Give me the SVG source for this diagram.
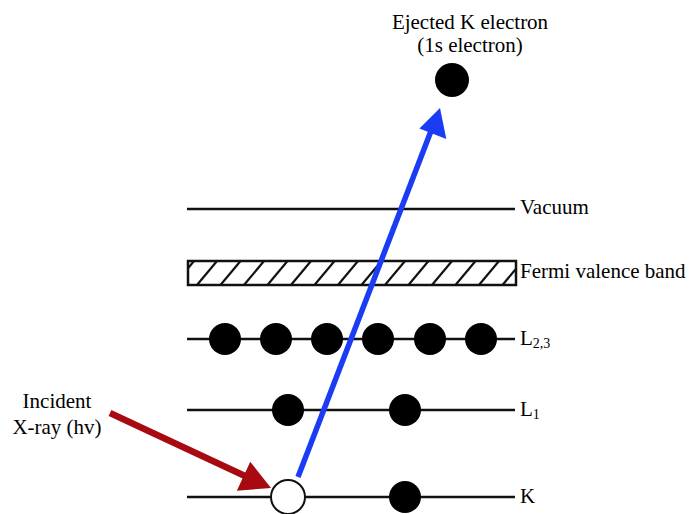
<svg xmlns="http://www.w3.org/2000/svg" width="689" height="514" viewBox="0 0 689 514">
<defs>
<style>
.lvl{stroke:#111;stroke-width:2.5;fill:none}
.e{fill:#000}
.lab{font-family:"Liberation Serif","Times New Roman",serif;font-size:21px;fill:#000}
.sub{font-size:14px}
.hatch{stroke:#111;stroke-width:2.2}
</style>
<clipPath id="bandclip"><rect x="188" y="261" width="328" height="24"/></clipPath>
</defs>
<rect width="689" height="514" fill="#fff"/>
<g id="vacuum">
<line class="lvl" x1="187" y1="209" x2="515" y2="209"/>
<text class="lab" x="520" y="214">Vacuum</text>
</g>
<g id="fermi">
<g clip-path="url(#bandclip)">
<line class="hatch" x1="174" y1="285" x2="194" y2="261"/>
<line class="hatch" x1="197" y1="285" x2="217" y2="261"/>
<line class="hatch" x1="220.5" y1="285" x2="240.5" y2="261"/>
<line class="hatch" x1="244" y1="285" x2="264" y2="261"/>
<line class="hatch" x1="267.5" y1="285" x2="287.5" y2="261"/>
<line class="hatch" x1="291" y1="285" x2="311" y2="261"/>
<line class="hatch" x1="314.5" y1="285" x2="334.5" y2="261"/>
<line class="hatch" x1="338" y1="285" x2="358" y2="261"/>
<line class="hatch" x1="361.5" y1="285" x2="381.5" y2="261"/>
<line class="hatch" x1="385" y1="285" x2="405" y2="261"/>
<line class="hatch" x1="408.5" y1="285" x2="428.5" y2="261"/>
<line class="hatch" x1="432" y1="285" x2="452" y2="261"/>
<line class="hatch" x1="455.5" y1="285" x2="475.5" y2="261"/>
<line class="hatch" x1="479" y1="285" x2="499" y2="261"/>
<line class="hatch" x1="502.5" y1="285" x2="522.5" y2="261"/>
</g>
<rect x="188" y="261" width="328" height="24" fill="none" stroke="#111" stroke-width="2.5"/>
<text class="lab" x="520" y="278">Fermi valence band</text>
</g>
<g id="L23">
<line class="lvl" x1="187" y1="339" x2="515" y2="339"/>
<circle class="e" cx="225" cy="339" r="16"/>
<circle class="e" cx="276" cy="339" r="16"/>
<circle class="e" cx="327" cy="339" r="16"/>
<circle class="e" cx="378" cy="339" r="16"/>
<circle class="e" cx="430" cy="339" r="16"/>
<circle class="e" cx="481" cy="339" r="16"/>
<text class="lab" x="520" y="345">L<tspan class="sub" dy="3">2,3</tspan></text>
</g>
<g id="L1">
<line class="lvl" x1="187" y1="410" x2="515" y2="410"/>
<circle class="e" cx="288" cy="410" r="16"/>
<circle class="e" cx="405" cy="410" r="16"/>
<text class="lab" x="520" y="416">L<tspan class="sub" dy="3">1</tspan></text>
</g>
<g id="K">
<line class="lvl" x1="187" y1="497" x2="515" y2="497"/>
<circle cx="288" cy="497" r="17" fill="#fff" stroke="#111" stroke-width="2"/>
<circle class="e" cx="405" cy="497" r="16"/>
<text class="lab" x="520" y="503">K</text>
</g>
<g id="ejected">
<circle class="e" cx="452" cy="80" r="17"/>
<text class="lab" x="470" y="29" text-anchor="middle">Ejected K electron</text>
<text class="lab" x="470" y="52" text-anchor="middle">(1s electron)</text>
</g>
<g id="incident">
<text class="lab" x="57" y="408" text-anchor="middle">Incident</text>
<text class="lab" x="57" y="434" text-anchor="middle">X-ray (hv)</text>
</g>
<g id="connectors">
<line x1="298" y1="477" x2="431" y2="131" stroke="#1a3cf5" stroke-width="5.5"/>
<polygon points="440,108 446.3,138.9 419.4,128.6" fill="#1a3cf5"/>
<line x1="110" y1="413" x2="245" y2="476" stroke="#a80a12" stroke-width="6.5"/>
<polygon points="271,488 236.8,490.7 250.3,461.7" fill="#a80a12"/>
</g>
</svg>
